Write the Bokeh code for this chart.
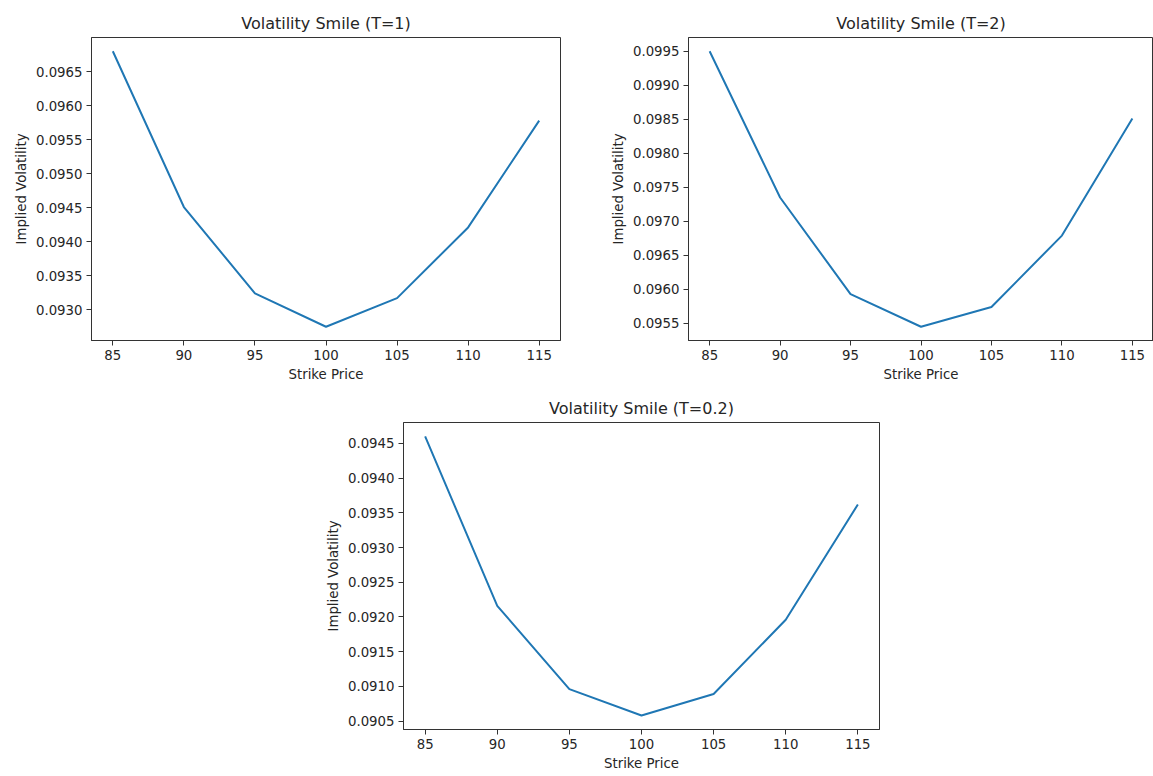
from bokeh.plotting import figure
from bokeh.layouts import column, row
from bokeh.models import Spacer, FixedTicker, PrintfTickFormatter, Range1d
from bokeh.embed import file_html
from bokeh.resources import INLINE

strikes = [85, 90, 95, 100, 105, 110, 115]
iv_t1 = [0.09680, 0.09451, 0.09324, 0.09275, 0.09317, 0.09421, 0.09578]
iv_t2 = [0.09950, 0.09735, 0.09593, 0.09545, 0.09574, 0.09679, 0.09851]
iv_t02 = [0.09460, 0.09216, 0.09096, 0.09058, 0.09089, 0.09196, 0.09362]
titles = ["Volatility Smile (T=1)", "Volatility Smile (T=2)", "Volatility Smile (T=0.2)"]
x_ticks = [85, 90, 95, 100, 105, 110, 115]
y_ticks_t1 = [0.0930, 0.0935, 0.0940, 0.0945, 0.0950, 0.0955, 0.0960, 0.0965]
y_ticks_t2 = [0.0955, 0.0960, 0.0965, 0.0970, 0.0975, 0.0980, 0.0985, 0.0990, 0.0995]
y_ticks_t02 = [0.0905, 0.0910, 0.0915, 0.0920, 0.0925, 0.0930, 0.0935, 0.0940, 0.0945]

FONT = "DejaVu Sans"


def pad(vals, frac=0.05):
    lo, hi = min(vals), max(vals)
    d = (hi - lo) * frac
    return lo - d, hi + d


def make(title, ys, yticks, width, height, bl, br, bt, bb):
    x0, x1 = pad(strikes)
    y0, y1 = pad(ys)
    p = figure(width=width, height=height, output_backend="svg", toolbar_location=None,
               x_range=Range1d(x0, x1), y_range=Range1d(y0, y1),
               min_border_left=bl, min_border_right=br, min_border_top=bt, min_border_bottom=bb)
    p.title.text = title
    p.title.align = "center"
    p.title.text_font = FONT
    p.title.text_font_size = "16px"
    p.title.text_font_style = "normal"
    p.title.text_color = "#262626"
    p.title.offset = 0
    p.line(strikes, ys, line_color="#1f77b4", line_width=2)
    p.grid.visible = False
    p.outline_line_color = "#333333"
    p.outline_line_width = 1
    p.xaxis.ticker = FixedTicker(ticks=x_ticks)
    p.yaxis.ticker = FixedTicker(ticks=yticks)
    p.yaxis.formatter = PrintfTickFormatter(format="%.4f")
    p.xaxis.axis_label = "Strike Price"
    p.yaxis.axis_label = "Implied Volatility"
    for ax in (p.xaxis, p.yaxis):
        ax.axis_line_color = "#333333"
        ax.major_tick_line_color = "#333333"
        ax.major_tick_out = 5
        ax.major_tick_in = 0
        ax.minor_tick_line_color = None
        ax.major_label_text_font = FONT
        ax.major_label_text_font_size = "13.3px"
        ax.major_label_text_color = "#262626"
        ax.major_label_standoff = 4
        ax.axis_label_text_font = FONT
        ax.axis_label_text_font_size = "13.3px"
        ax.axis_label_text_font_style = "normal"
        ax.axis_label_text_color = "#262626"
        ax.axis_label_standoff = 4
    return p


p1 = make(titles[0], iv_t1, y_ticks_t1, 597, 390, 91, 37, 37, 50)
p2 = make(titles[1], iv_t2, y_ticks_t2, 556, 390, 91, 0, 37, 48)
p3 = make(titles[2], iv_t02, y_ticks_t02, 577, 386, 91, 10, 32, 47)

layout = column(row(p1, p2), row(Spacer(width=312, height=386), p3))

open("out.html", "w").write(file_html(layout, INLINE))
